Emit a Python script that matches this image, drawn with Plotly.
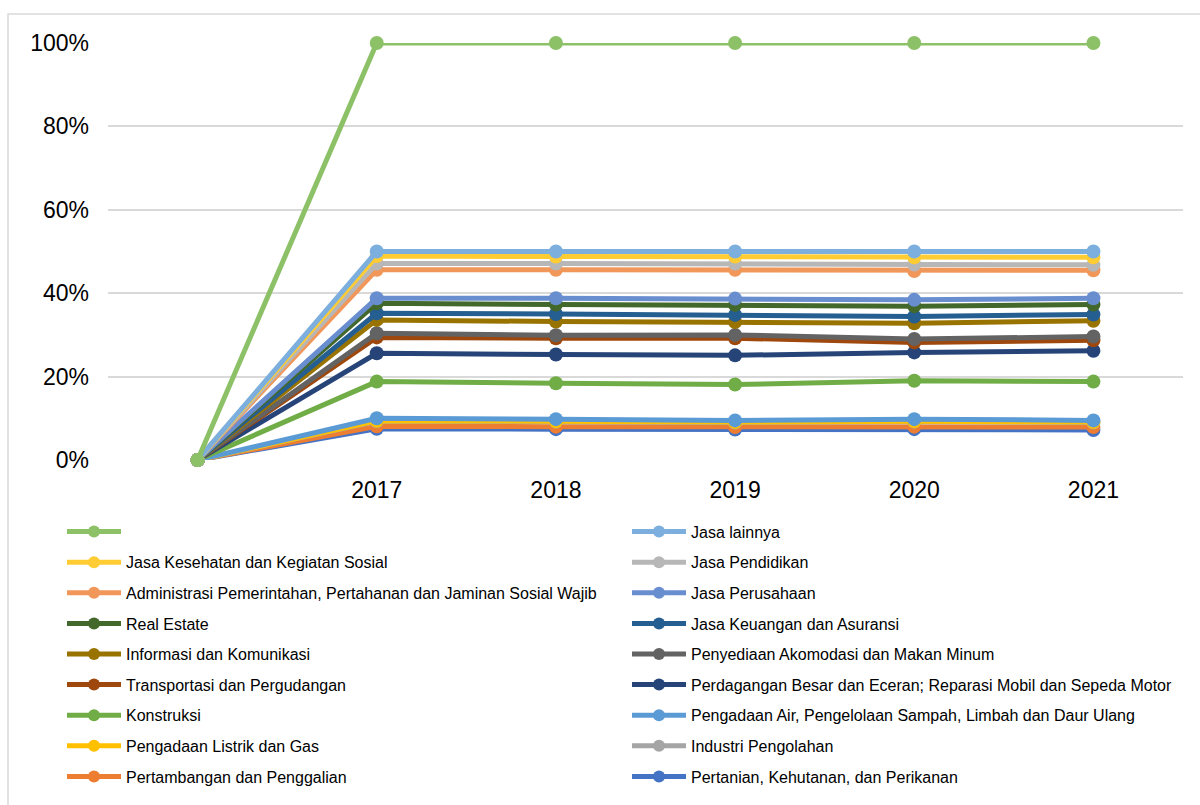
import plotly.graph_objects as go

# Categories (first category label is blank in the original)
categories = ["", "2017", "2018", "2019", "2020", "2021"]

# Cumulative (stacked) shares in percent, as drawn in the chart
s_blank = [0, 100, 100, 100, 100, 100]
s_jasa_lainnya = [0, 50.0, 50.0, 50.0, 50.0, 50.0]
s_jasa_kesehatan = [0, 48.9, 48.8, 48.8, 48.6, 48.6]
s_jasa_pendidikan = [0, 47.1, 47.1, 47.1, 46.9, 46.8]
s_administrasi = [0, 45.6, 45.6, 45.6, 45.3, 45.5]
s_jasa_perusahaan = [0, 38.8, 38.8, 38.7, 38.4, 38.8]
s_real_estate = [0, 37.6, 37.3, 37.2, 36.9, 37.3]
s_jasa_keuangan = [0, 35.2, 35.0, 34.8, 34.4, 34.9]
s_informasi = [0, 33.6, 33.2, 33.1, 32.8, 33.4]
s_akomodasi = [0, 30.4, 29.9, 30.0, 29.0, 29.6]
s_transportasi = [0, 29.4, 29.2, 29.2, 28.2, 28.7]
s_perdagangan = [0, 25.6, 25.3, 25.1, 25.8, 26.2]
s_konstruksi = [0, 18.8, 18.4, 18.1, 19.0, 18.8]
s_pengadaan_air = [0, 10.0, 9.8, 9.5, 9.8, 9.5]
s_pengadaan_listrik = [0, 9.4, 9.3, 9.1, 9.3, 9.1]
s_industri = [0, 9.3, 9.2, 9.0, 9.2, 9.0]
s_pertambangan = [0, 8.1, 8.0, 7.9, 8.0, 7.9]
s_pertanian = [0, 7.5, 7.4, 7.3, 7.4, 7.2]

y_ticks = [0, 20, 40, 60, 80, 100]

# Series in legend order (top of stack first)
series = [
    (" ", s_blank, "#8CC168"),
    ("Jasa lainnya", s_jasa_lainnya, "#7CAFDD"),
    ("Jasa Kesehatan dan Kegiatan Sosial", s_jasa_kesehatan, "#FFCD33"),
    ("Jasa Pendidikan", s_jasa_pendidikan, "#B7B7B7"),
    ("Administrasi Pemerintahan, Pertahanan dan Jaminan Sosial Wajib", s_administrasi, "#F1975A"),
    ("Jasa Perusahaan", s_jasa_perusahaan, "#698ED0"),
    ("Real Estate", s_real_estate, "#43682B"),
    ("Jasa Keuangan dan Asuransi", s_jasa_keuangan, "#255E91"),
    ("Informasi dan Komunikasi", s_informasi, "#997300"),
    ("Penyediaan Akomodasi dan Makan Minum", s_akomodasi, "#636363"),
    ("Transportasi dan Pergudangan", s_transportasi, "#9E480E"),
    ("Perdagangan Besar dan Eceran; Reparasi Mobil dan Sepeda Motor", s_perdagangan, "#264478"),
    ("Konstruksi", s_konstruksi, "#70AD47"),
    ("Pengadaan Air, Pengelolaan Sampah, Limbah dan Daur Ulang", s_pengadaan_air, "#5B9BD5"),
    ("Pengadaan Listrik dan Gas", s_pengadaan_listrik, "#FFC000"),
    ("Industri Pengolahan", s_industri, "#A5A5A5"),
    ("Pertambangan dan Penggalian", s_pertambangan, "#ED7D31"),
    ("Pertanian, Kehutanan, dan Perikanan", s_pertanian, "#4472C4"),
]

W, H = 1200, 805
FONT = "Liberation Sans, Arial, sans-serif"

fig = go.Figure()
x_idx = list(range(len(categories)))

# draw bottom of stack first so the upper series sit on top
for i in reversed(range(len(series))):
    name, vals, col = series[i]
    lg = "legend" if i == 0 else f"legend{i+1}"
    fig.add_trace(go.Scatter(
        x=x_idx, y=vals, name=name, mode="lines+markers",
        line=dict(color=col, width=5),
        marker=dict(color=col, size=14),
        cliponaxis=False, legend=lg,
    ))

layout_legends = {}
for i in range(len(series)):
    row = i // 2
    colm = i % 2
    px_x = 62 if colm == 0 else 627
    px_y = 531.7 + row * 30.6
    key = "legend" if i == 0 else f"legend{i+1}"
    layout_legends[key] = dict(
        xref="container", yref="container",
        x=px_x / W, y=1 - px_y / H,
        xanchor="left", yanchor="middle",
        bgcolor="rgba(0,0,0,0)", borderwidth=0,
        itemwidth=54, itemsizing="constant",
        font=dict(family=FONT, size=16, color="#000000"),
    )

fig.update_layout(
    width=W, height=H,
    margin=dict(l=108, r=17, t=43, b=345, autoexpand=False),
    paper_bgcolor="white", plot_bgcolor="white",
    font=dict(family=FONT, color="#000000"),
    showlegend=True,
    **layout_legends,
)

fig.update_xaxes(
    range=[-0.5, len(categories) - 0.5],
    tickmode="array", tickvals=x_idx, ticktext=categories,
    showgrid=False, zeroline=False, showline=False,
    ticks="", ticklabelstandoff=14,
    tickfont=dict(family=FONT, size=23, color="#000000"),
    automargin=False,
)
fig.update_yaxes(
    range=[0, 100],
    tickmode="array", tickvals=y_ticks, ticktext=[f"{v}%" for v in y_ticks],
    showgrid=True, gridcolor="#D9D9D9", gridwidth=1.5,
    zeroline=False, showline=False,
    ticks="", ticklabelstandoff=18,
    tickfont=dict(family=FONT, size=23, color="#000000"),
    automargin=False,
)

# outer chart border
px2x = lambda p: (p - 108) / 1075
px2y = lambda p: (460 - p) / 417
fig.add_shape(type="rect", xref="paper", yref="paper",
              x0=px2x(8), x1=px2x(1210), y0=px2y(14), y1=px2y(815),
              line=dict(color="#D9D9D9", width=1.5), fillcolor="rgba(0,0,0,0)",
              layer="below")

fig.write_html("out.html")
